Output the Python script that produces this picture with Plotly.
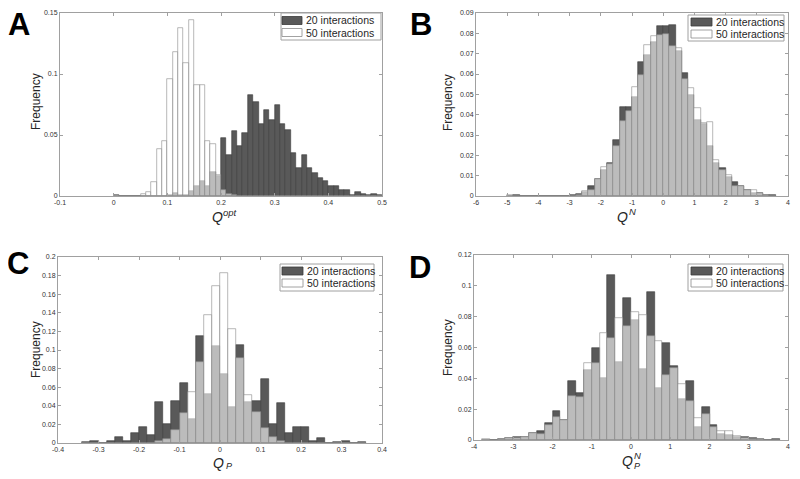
import numpy as np
import plotly.graph_objects as go

# ---------------- data ----------------
# Panel A: Q^opt, bins of width 0.01 starting at 0.00
a_start, a_width = 0.0, 0.01
a_dark = [0.0005, 0, 0, 0, 0, 0, 0, 0, 0, 0,
          0.0005, 0.0024, 0.001, 0.001, 0.004, 0.0079, 0.0126, 0.0084, 0.0197, 0.016,
          0.0474, 0.0334, 0.0529, 0.0408, 0.0513, 0.0829, 0.0768, 0.0592, 0.0703, 0.0626,
          0.0745, 0.0592, 0.0542, 0.035, 0.0232, 0.0337, 0.0232, 0.019, 0.0145, 0.0126,
          0.0084, 0.0084, 0.0053, 0.0053, 0.001, 0.003, 0.002, 0.001, 0.0015, 0.001]
a_white = [0.0005, 0.0003, 0.0003, 0.0003, 0.0003, 0.0015, 0.003, 0.0116, 0.0384, 0.0453,
           0.0963, 0.118, 0.138, 0.109, 0.144, 0.0913, 0.0913, 0.0447, 0.0424, 0.017,
           0.005, 0.002, 0.0005, 0, 0, 0, 0, 0, 0, 0,
           0, 0, 0, 0, 0, 0, 0, 0, 0, 0,
           0, 0, 0, 0, 0, 0, 0, 0, 0, 0]

# Panel B: Q^N, bins of width 0.2 starting at -5.0
b_start, b_width = -5.0, 0.2
b_dark = [0, 0.0005, 0, 0, 0, 0, 0, 0, 0, 0,
          0.0003, 0.0012, 0.002, 0.005, 0.0084, 0.0126, 0.0164, 0.0273, 0.0436, 0.0436,
          0.0488, 0.0657, 0.0692, 0.0755, 0.0834, 0.0837, 0.0842, 0.0711, 0.0605, 0.0497,
          0.0376, 0.0353, 0.0248, 0.016, 0.0137, 0.0093, 0.0068, 0.0047, 0.0029, 0.0015,
          0.0015, 0.0004, 0.0007]
b_white = [0.0003, 0, 0, 0, 0, 0, 0, 0, 0, 0,
           0.0002, 0.0005, 0.0025, 0.0028, 0.0082, 0.0142, 0.0155, 0.0245, 0.0371, 0.0418,
           0.0538, 0.0594, 0.0744, 0.0786, 0.0794, 0.0796, 0.0739, 0.0728, 0.0573, 0.0529,
           0.0434, 0.0358, 0.0362, 0.0175, 0.0126, 0.0103, 0.005, 0.0048, 0.003, 0.0028,
           0.0017, 0.0005, 0.0002]

# Panel C: Q_P, bins of width 0.02 starting at -0.34
c_start, c_width = -0.34, 0.02
c_dark = [0.0007, 0.0018, 0.0003, 0.0018, 0.006, 0.0018, 0.0107, 0.0168, 0.0086, 0.0443,
          0.0204, 0.045, 0.0643, 0.0257, 0.1154, 0.0525, 0.104, 0.0746, 0.039, 0.105,
          0.0436, 0.045, 0.0693, 0.02, 0.0429, 0.0107, 0.0168, 0.0175, 0.002, 0.005,
          0.0003, 0.001, 0.0025, 0, 0.0007]
c_white = [0, 0, 0, 0, 0, 0, 0, 0, 0, 0.002,
           0.004, 0.0136, 0.0325, 0.055, 0.0875, 0.1375, 0.1686, 0.183, 0.1225, 0.0918,
           0.0518, 0.0329, 0.0157, 0.006, 0.0018, 0, 0, 0, 0, 0,
           0, 0, 0, 0, 0]

# Panel D: Q_P^N, bins of width 0.2 starting at -3.8
d_start, d_width = -3.8, 0.2
d_dark = [0.0002, 0.0002, 0.0009, 0.001, 0.0019, 0.002, 0.0047, 0.006, 0.0108, 0.019,
          0.0133, 0.0383, 0.0305, 0.0452, 0.06, 0.04, 0.1069, 0.0508, 0.0918, 0.078,
          0.0458, 0.0963, 0.0338, 0.063, 0.0482, 0.0269, 0.038, 0.0086, 0.0215, 0.0095,
          0.0039, 0.0034, 0.0017, 0.0019, 0.0013, 0.0006, 0.0002, 0.0006]
d_white = [0.0006, 0.0002, 0.0004, 0.001, 0.0013, 0.002, 0.0047, 0.0037, 0.01, 0.0146,
           0.0133, 0.0288, 0.028, 0.0499, 0.0501, 0.0697, 0.066, 0.0791, 0.074, 0.0828,
           0.0813, 0.0677, 0.0645, 0.0424, 0.0469, 0.0366, 0.0252, 0.0144, 0.0168, 0.0084,
           0.006, 0.006, 0.0028, 0.0015, 0.0009, 0.0006, 0.0002, 0.0002]

series_names = ["20 interactions", "50 interactions"]

a_xticks = [-0.1, 0, 0.1, 0.2, 0.3, 0.4, 0.5]
a_xticktext = ["-0.1", "0", "0.1", "0.2", "0.3", "0.4", "0.5"]
a_yticks = [0, 0.05, 0.1, 0.15]
a_yticktext = ["0", "0.05", "0.1", "0.15"]

b_xticks = [-6, -5, -4, -3, -2, -1, 0, 1, 2, 3, 4]
b_xticktext = ["-6", "-5", "-4", "-3", "-2", "-1", "0", "1", "2", "3", "4"]
b_yticks = [0, 0.01, 0.02, 0.03, 0.04, 0.05, 0.06, 0.07, 0.08, 0.09]
b_yticktext = ["0", "0.01", "0.02", "0.03", "0.04", "0.05", "0.06", "0.07", "0.08", "0.09"]

c_xticks = [-0.4, -0.3, -0.2, -0.1, 0, 0.1, 0.2, 0.3, 0.4]
c_xticktext = ["-0.4", "-0.3", "-0.2", "-0.1", "0", "0.1", "0.2", "0.3", "0.4"]
c_yticks = [0, 0.02, 0.04, 0.06, 0.08, 0.1, 0.12, 0.14, 0.16, 0.18, 0.2]
c_yticktext = ["0", "0.02", "0.04", "0.06", "0.08", "0.1", "0.12", "0.14", "0.16", "0.18", "0.2"]

d_xticks = [-4, -3, -2, -1, 0, 1, 2, 3, 4]
d_xticktext = ["-4", "-3", "-2", "-1", "0", "1", "2", "3", "4"]
d_yticks = [0, 0.02, 0.04, 0.06, 0.08, 0.1, 0.12]
d_yticktext = ["0", "0.02", "0.04", "0.06", "0.08", "0.1", "0.12"]

# ---------------- figure ----------------
# page body has an 8px default margin; the figure fills the rest of the 800x479 window
OFF = 8
W, H = 800 - 2 * OFF, 479 - 2 * OFF
FONT = "Liberation Sans, Arial, Helvetica, sans-serif"
TXT = "#262626"
DARK = "#595959"
DARK_EDGE = "#3a3a3a"
WHITE_FILL = "rgba(255,255,255,0.6)"
WHITE_EDGE = "#8a8a8a"
BOX = "#a0a0a0"


def px_x(p):
    return min(max((p - OFF) / W, 0.0), 1.0)


def px_y(p):
    return min(max(1 - (p - OFF) / H, 0.0), 1.0)


panels = [
    dict(start=a_start, width=a_width, dark=a_dark, white=a_white, xr=[-0.1, 0.5], yr=[0, 0.15],
         xt=a_xticks, xtt=a_xticktext, yt=a_yticks, ytt=a_yticktext,
         dom=(60, 382, 13, 196),
         leg=dict(box=(281, 13, 381, 40), sw=(282, 302), rows=(20.5, 32.5), tx=304),
         letter="A", lpos=(19, 25), ytitle=(36, 102),
         q=(217, 217.5), sup="opt", sub=None, sx=221.5, sup_y=212.5, sub_y=None),
    dict(start=b_start, width=b_width, dark=b_dark, white=b_white, xr=[-6, 4], yr=[0, 0.09],
         xt=b_xticks, xtt=b_xticktext, yt=b_yticks, ytt=b_yticktext,
         dom=(476, 788, 13, 196),
         leg=dict(box=(688, 15, 784, 41), sw=(691, 712), rows=(22, 34), tx=714),
         letter="B", lpos=(421, 25), ytitle=(448, 102),
         q=(622, 217.5), sup="N", sub=None, sx=627, sup_y=212, sub_y=None),
    dict(start=c_start, width=c_width, dark=c_dark, white=c_white, xr=[-0.4, 0.4], yr=[0, 0.2],
         xt=c_xticks, xtt=c_xticktext, yt=c_yticks, ytt=c_yticktext,
         dom=(58, 382, 257, 443),
         leg=dict(box=(280, 264, 374, 291), sw=(282, 303), rows=(271, 283), tx=305),
         letter="C", lpos=(18, 263), ytitle=(36, 350),
         q=(219, 462.5), sup=None, sub="P", sx=223.5, sup_y=None, sub_y=466),
    dict(start=d_start, width=d_width, dark=d_dark, white=d_white, xr=[-4, 4], yr=[0, 0.12],
         xt=d_xticks, xtt=d_xticktext, yt=d_yticks, ytt=d_yticktext,
         dom=(474, 788, 255, 440),
         leg=dict(box=(688, 264, 783, 291), sw=(691, 712), rows=(271, 283), tx=714),
         letter="D", lpos=(420, 267), ytitle=(448, 347),
         q=(627, 460.5), sup="N", sub="P", sx=631.5, sup_y=455, sub_y=466),
]

fig = go.Figure()
layout = dict(
    width=W, height=H,
    margin=dict(l=0, r=0, t=0, b=0, autoexpand=False),
    paper_bgcolor="white", plot_bgcolor="white",
    barmode="overlay", bargap=0,
    showlegend=False,
    font=dict(family=FONT, color=TXT),
    annotations=[], shapes=[],
)


def add_text(text, x, y, size, xanchor="center", yanchor="middle", angle=0):
    layout["annotations"].append(dict(
        text=text, x=px_x(x), y=px_y(y), xref="paper", yref="paper", showarrow=False,
        xanchor=xanchor, yanchor=yanchor, textangle=angle,
        font=dict(size=size, color=TXT if size < 20 else "black", family=FONT)))


for i, p in enumerate(panels, start=1):
    n = len(p["dark"])
    centers = p["start"] + p["width"] * (np.arange(n) + 0.5)
    xa = "x" if i == 1 else f"x{i}"
    ya = "y" if i == 1 else f"y{i}"
    fig.add_trace(go.Bar(
        x=centers, y=p["dark"], width=p["width"], name=series_names[0],
        marker=dict(color=DARK, line=dict(color=DARK_EDGE, width=0.6)),
        xaxis=xa, yaxis=ya, hoverinfo="skip"))
    fig.add_trace(go.Bar(
        x=centers, y=p["white"], width=p["width"], name=series_names[1],
        marker=dict(color=WHITE_FILL, line=dict(color=WHITE_EDGE, width=0.6)),
        xaxis=xa, yaxis=ya, hoverinfo="skip"))

    x0, x1, yt, yb = p["dom"]
    axis_common = dict(
        showgrid=False, zeroline=False, showline=True, linecolor=BOX, linewidth=1,
        mirror="ticks", ticks="inside", ticklen=3, tickcolor=BOX, tickwidth=1,
        tickfont=dict(size=7, color="#333333", family=FONT), automargin=False,
        ticklabeloverflow="allow",
    )
    xkey = "xaxis" if i == 1 else f"xaxis{i}"
    ykey = "yaxis" if i == 1 else f"yaxis{i}"
    layout[xkey] = dict(axis_common, domain=[px_x(x0), px_x(x1)], range=p["xr"],
                        tickvals=p["xt"], ticktext=p["xtt"], anchor=ya)
    layout[ykey] = dict(axis_common, domain=[px_y(yb), px_y(yt)], range=p["yr"],
                        tickvals=p["yt"], ticktext=p["ytt"], anchor=xa)

    # axis titles
    add_text("Frequency", p["ytitle"][0], p["ytitle"][1], 12, angle=-90)
    add_text("<i>Q</i>", p["q"][0], p["q"][1], 14)
    if p["sup"]:
        add_text(f"<i>{p['sup']}</i>", p["sx"], p["sup_y"], 9.5, xanchor="left")
    if p["sub"]:
        add_text(f"<i>{p['sub']}</i>", p["sx"], p["sub_y"], 9, xanchor="left")

    # legend box (drawn in page pixels)
    lg = p["leg"]
    bl, bt, br, bb = lg["box"]
    layout["shapes"].append(dict(type="rect", xref="paper", yref="paper",
                                 x0=px_x(bl), x1=px_x(br), y0=px_y(bb), y1=px_y(bt),
                                 line=dict(color=BOX, width=1), fillcolor="white", layer="above"))
    for k, (fill, edge) in enumerate([(DARK, DARK_EDGE), ("white", WHITE_EDGE)]):
        cy = lg["rows"][k]
        layout["shapes"].append(dict(type="rect", xref="paper", yref="paper",
                                     x0=px_x(lg["sw"][0]), x1=px_x(lg["sw"][1]),
                                     y0=px_y(cy + 4), y1=px_y(cy - 4),
                                     line=dict(color=edge, width=0.8), fillcolor=fill, layer="above"))
        add_text(series_names[k], lg["tx"], cy, 10.5, xanchor="left")

    # panel letter
    add_text(f"<b>{p['letter']}</b>", p["lpos"][0], p["lpos"][1], 31)

fig.update_layout(**layout)
fig.write_html("out.html")
